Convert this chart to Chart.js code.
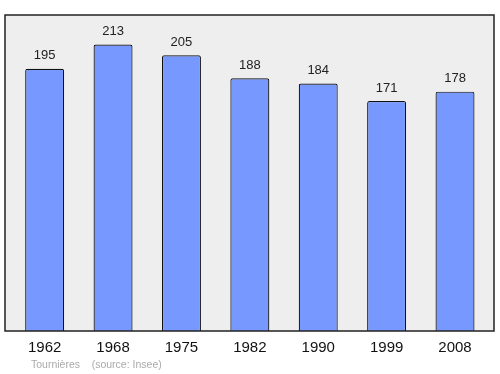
<!DOCTYPE html>
<html>
<head>
<meta charset="utf-8">
<script src="https://cdn.jsdelivr.net/npm/chart.js@4"></script>
<style>
  html, body { margin: 0; padding: 0; background: #fff; }
  #wrap { width: 500px; height: 374px; }
</style>
</head>
<body>
<div id="wrap"><canvas id="popchart"></canvas></div>
<script>
const years = ['1962', '1968', '1975', '1982', '1990', '1999', '2008'];
const population = [195, 213, 205, 188, 184, 171, 178];
const caption = 'Tournières    (source: Insee)';

// grey plot box with dark frame
const framePlugin = {
    id: 'frame',
    beforeDraw(chart) {
        const a = chart.chartArea, c = chart.ctx;
        c.save();
        c.fillStyle = '#eeeeee';
        c.fillRect(a.left, a.top, a.right - a.left, a.bottom - a.top);
        c.restore();
    },
    afterDatasetsDraw(chart) {
        const a = chart.chartArea, c = chart.ctx;
        c.save();
        c.strokeStyle = '#222';
        c.lineWidth = 1.5;
        c.strokeRect(a.left, a.top, a.right - a.left, a.bottom - a.top);
        c.restore();
    },
    afterDraw(chart) {
        const c = chart.ctx;
        c.save();
        // value labels above each bar
        c.font = '13px "Liberation Sans", Arial, sans-serif';
        c.fillStyle = '#222';
        c.textAlign = 'center';
        c.textBaseline = 'middle';
        chart.getDatasetMeta(0).data.forEach(function(bar, i) {
            c.fillText(String(population[i]), bar.x, bar.y - 13);
        });
        // source line
        c.font = '10.5px "Liberation Sans", Arial, sans-serif';
        c.fillStyle = '#aaaaaa';
        c.textAlign = 'left';
        c.fillText(caption, 31, 365);
        c.restore();
    }
};

document.addEventListener("DOMContentLoaded", function() {
    const ctx = document.getElementById('popchart');

    new Chart(ctx, {
        type: 'bar',
        data: {
            datasets: [{
                data: population.map(function(v, i) { return { x: i, y: v }; }),
                backgroundColor: '#7799ff',
                borderColor: '#111',
                borderWidth: 1.2,
                borderSkipped: 'bottom',
                borderRadius: 2,
                barPercentage: 0.57,
                categoryPercentage: 1
            }]
        },
        options: {
            responsive: true,
            maintainAspectRatio: false,
            animation: false,
            layout: { padding: { left: 5, right: 6, top: 15, bottom: 9 } },
            plugins: {
                legend: { display: false },
                tooltip: { enabled: false }
            },
            scales: {
                x: {
                    type: 'linear',
                    offset: false,
                    min: -0.58,
                    max: 6.57,
                    grid: { display: false, drawTicks: false },
                    border: { display: false },
                    afterBuildTicks: function(axis) {
                        axis.ticks = years.map(function(y, i) { return { value: i }; });
                    },
                    ticks: {
                        padding: 8,
                        color: '#111',
                        font: { size: 15, family: '"Liberation Sans", Arial, sans-serif' },
                        callback: function(v) { return years[v]; }
                    }
                },
                y: {
                    display: false,
                    min: 0,
                    max: 235
                }
            }
        },
        plugins: [framePlugin]
    });
});
</script>
</body>
</html>
